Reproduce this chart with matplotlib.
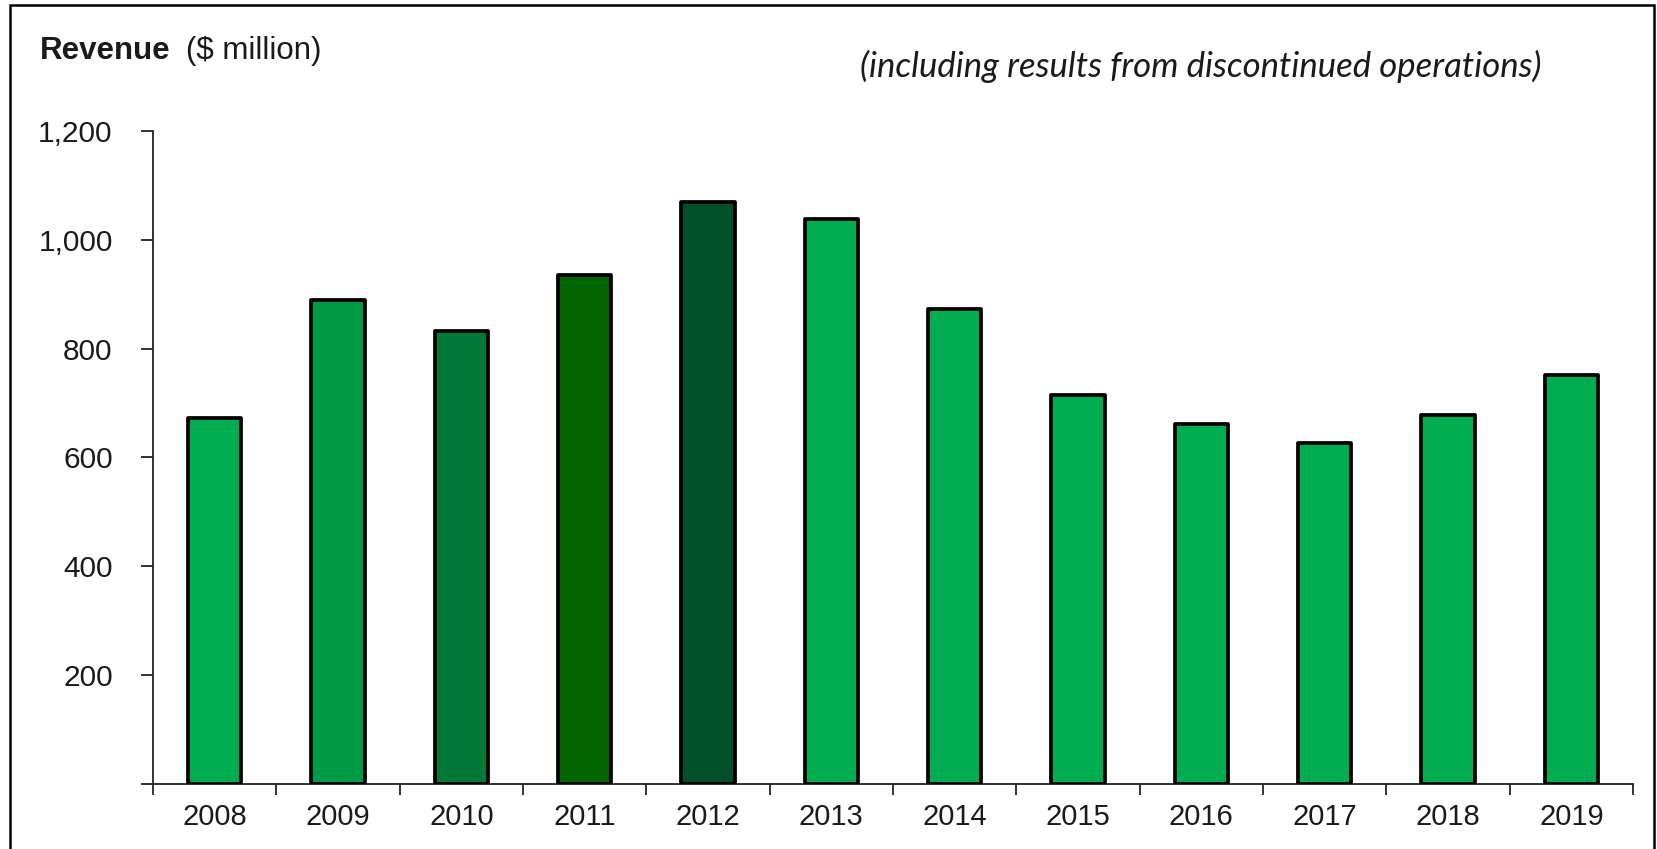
import matplotlib.pyplot as plt
from matplotlib.patches import Rectangle
import numpy as np

years = ['2008', '2009', '2010', '2011', '2012', '2013',
         '2014', '2015', '2016', '2017', '2018', '2019']
revenue = [672, 890, 833, 935, 1070, 1038, 872, 715, 661, 627, 678, 752]
bar_colors = ['#00ad50', '#009a46', '#007a36', '#006400', '#00502a', '#00ad50',
              '#00ad50', '#00ad50', '#00ad50', '#00ad50', '#00ad50', '#00ad50']
yticks = [0, 200, 400, 600, 800, 1000, 1200]
ylabels = ['', '200', '400', '600', '800', '1,000', '1,200']

plt.rcParams['font.family'] = ['Liberation Sans', 'DejaVu Sans']
txt = '#1a1a1a'

W, H = 1658, 849
fig = plt.figure(figsize=(W / 100, H / 100), dpi=100)
ax = fig.add_axes([153 / W, 1 - 783.6 / H, (1633 - 153) / W, (783.6 - 131) / H])

x = np.arange(len(years))
ax.bar(x, revenue, width=0.43, color=bar_colors, edgecolor='black',
       linewidth=2.7, joinstyle='round', zorder=3)

ax.set_xlim(-0.5, len(years) - 0.5)
ax.set_ylim(0, 1200)
ax.set_yticks(yticks)
ax.set_yticklabels(ylabels)
ax.set_xticks(x)
ax.set_xticklabels(years)
ax.set_xticks(np.arange(-0.5, len(years), 1), minor=True)

for s in ['top', 'right']:
    ax.spines[s].set_visible(False)
for s in ['left', 'bottom']:
    ax.spines[s].set_linewidth(1.3)
    ax.spines[s].set_color('#222222')
ax.spines['left'].set_zorder(4)

ax.tick_params(axis='x', which='major', length=0, pad=14, labelsize=21, labelcolor=txt)
ax.tick_params(axis='x', which='minor', length=8, width=1.3, direction='out', color='#222222')
ax.tick_params(axis='y', length=9, width=1.3, direction='out', pad=20,
               labelsize=21.5, labelcolor=txt, color='#222222')

t1 = fig.text(40 / W, 1 - 51 / H, 'Revenue', fontsize=22.5, fontweight='bold',
              color=txt, va='center', ha='left')
fig.canvas.draw()
ax.annotate('($ million)', xy=(1, 0.5), xycoords=t1, xytext=(11, 0),
            textcoords='offset points', fontsize=22.5, color=txt, va='center', ha='left',
            annotation_clip=False)

fig.text(1542 / W, 1 - 66 / H, '(including results from discontinued operations)',
         fontsize=25, style='italic', family=['Lato', 'DejaVu Sans'],
         color=txt, va='center', ha='right')

fig.patches.append(Rectangle((10 / W, -0.02), (1654 - 10) / W, 1.02 - 5 / H,
                             transform=fig.transFigure, fill=False,
                             edgecolor='black', linewidth=1.8))

fig.savefig('out.png', dpi=100)
